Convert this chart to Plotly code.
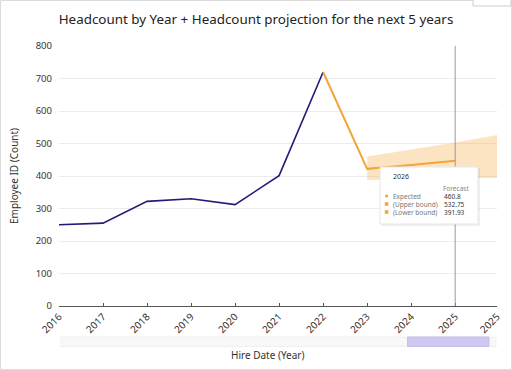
import plotly.graph_objects as go

# ---- data ----
years_hist = [2016, 2017, 2018, 2019, 2020, 2021, 2022]
headcount = [250, 255, 322, 330, 312, 401, 720]

years_fc = [2022, 2023, 2024, 2025]
forecast = [720, 422, 434, 447]

band_x = [2023, 2024, 2025, 2025.95]
band_upper = [460, 481, 503, 526]
band_lower = [388, 391, 393, 394]

tick_vals = [2016, 2017, 2018, 2019, 2020, 2021, 2022, 2023, 2024, 2025, 2025.95]
tick_text = ["2016", "2017", "2018", "2019", "2020", "2021", "2022", "2023", "2024", "2025", "2025"]

tooltip_title = "2026"
tooltip_labels = ["Expected", "(Upper bound)", "(Lower bound)"]
tooltip_values = ["460.8", "532.75", "391.93"]
spike_x = 2025

BLUE = "#201c78"
ORANGE = "#f2a53a"
FONT = "Noto Sans"

W, H = 512, 370
L, R, T, B = 59, 15, 46, 64
PW, PH = W - L - R, H - T - B


def px(x):
    return (x - L) / PW


def py(y):
    return (H - B - y) / PH


fig = go.Figure()

fig.add_trace(go.Scatter(x=band_x, y=band_upper, mode="lines", line=dict(width=0),
                         hoverinfo="skip", showlegend=False))
fig.add_trace(go.Scatter(x=band_x, y=band_lower, mode="lines", line=dict(width=0),
                         fill="tonexty", fillcolor="rgba(246,176,80,0.34)",
                         hoverinfo="skip", showlegend=False))
fig.add_trace(go.Scatter(x=years_hist, y=headcount, mode="lines",
                         line=dict(color=BLUE, width=1.6), showlegend=False))
fig.add_trace(go.Scatter(x=years_fc, y=forecast, mode="lines",
                         line=dict(color=ORANGE, width=2), showlegend=False))

shapes = []
# outer border
shapes.append(dict(type="rect", xref="paper", yref="paper",
                   x0=px(0.5), x1=px(W - 0.5), y0=py(H - 0.5), y1=py(0.5),
                   line=dict(color="#dcdcdc", width=1), layer="below"))
# spike line
shapes.append(dict(type="line", xref="x", yref="paper", x0=spike_x, x1=spike_x,
                   y0=0, y1=1, line=dict(color="#9a9a9a", width=1)))
# scrollbar track & thumb
shapes.append(dict(type="rect", xref="paper", yref="paper",
                   x0=px(61), x1=px(496), y0=py(346.5), y1=py(337),
                   fillcolor="#f8f8f8", line=dict(color="#f0f0f0", width=1)))
shapes.append(dict(type="rect", xref="paper", yref="paper",
                   x0=px(407.5), x1=px(489), y0=py(346.5), y1=py(337),
                   fillcolor="#cdc9f0", line=dict(color="#c4bfee", width=1)))
# toolbar box top right
shapes.append(dict(type="rect", xref="paper", yref="paper",
                   x0=px(473), x1=px(511), y0=py(6), y1=py(-2),
                   fillcolor="#ffffff", line=dict(color="#cccccc", width=1)))
# tooltip shadow + box
shapes.append(dict(type="rect", xref="paper", yref="paper",
                   x0=px(381), x1=px(480), y0=py(226), y1=py(168),
                   fillcolor="rgba(0,0,0,0.06)", line=dict(width=0)))
shapes.append(dict(type="rect", xref="paper", yref="paper",
                   x0=px(380), x1=px(478), y0=py(224), y1=py(167),
                   fillcolor="#ffffff", line=dict(color="#e6e6e6", width=1)))
# tooltip markers
row_y = [196, 204, 212]
shapes.append(dict(type="circle", xref="paper", yref="paper",
                   x0=px(385), x1=px(388.2), y0=py(197.6), y1=py(194.4),
                   fillcolor=ORANGE, line=dict(width=0)))
for ry in row_y[1:]:
    shapes.append(dict(type="rect", xref="paper", yref="paper",
                       x0=px(384.8), x1=px(388.4), y0=py(ry + 1.8), y1=py(ry - 1.8),
                       fillcolor=ORANGE, line=dict(width=0)))

ann = []
ann.append(dict(text=tooltip_title, xref="paper", yref="paper", x=px(391), y=py(176),
                xanchor="left", yanchor="middle", showarrow=False,
                font=dict(family=FONT, size=7, color="#333")))
ann.append(dict(text="Forecast", xref="paper", yref="paper", x=px(471), y=py(188),
                xanchor="right", yanchor="middle", showarrow=False,
                font=dict(family=FONT, size=6.5, color="#888")))
for lab, val, ry in zip(tooltip_labels, tooltip_values, row_y):
    ann.append(dict(text=lab, xref="paper", yref="paper", x=px(390.5), y=py(ry),
                    xanchor="left", yanchor="middle", showarrow=False,
                    font=dict(family=FONT, size=6.5, color="#777")))
    ann.append(dict(text=val, xref="paper", yref="paper", x=px(442), y=py(ry),
                    xanchor="left", yanchor="middle", showarrow=False,
                    font=dict(family=FONT, size=6.5, color="#333")))
# axis titles
ann.append(dict(text="Employee ID (Count)", xref="paper", yref="paper", x=px(14), y=py(176),
                textangle=-90, xanchor="center", yanchor="middle", showarrow=False,
                font=dict(family=FONT, size=10, color="#333")))
ann.append(dict(text="Hire Date (Year)", xref="paper", yref="paper", x=px(267), y=py(355),
                xanchor="center", yanchor="middle", showarrow=False,
                font=dict(family=FONT, size=10, color="#333")))

fig.update_layout(
    width=W, height=H,
    margin=dict(l=L, r=R, t=T, b=B, autoexpand=False),
    paper_bgcolor="white", plot_bgcolor="white",
    font=dict(family=FONT, color="#333"),
    title=dict(text="Headcount by Year + Headcount projection for the next 5 years",
               x=0.5, xanchor="center", xref="container",
               y=1 - 19 / H, yanchor="middle", yref="container",
               font=dict(family=FONT, size=13.4, color="#222")),
    shapes=shapes, annotations=ann,
    showlegend=False,
)
fig.update_xaxes(range=[2016, 2025.95], tickvals=tick_vals, ticktext=tick_text,
                 tickangle=-45, showgrid=False, zeroline=False, automargin=False,
                 showline=True, linecolor="#555", linewidth=1,
                 ticks="inside", ticklen=3, tickcolor="#555",
                 tickfont=dict(family=FONT, size=10, color="#333"))
fig.update_yaxes(range=[0, 800], tickvals=[0, 100, 200, 300, 400, 500, 600, 700, 800],
                 showgrid=True, gridcolor="#ececec", gridwidth=1, zeroline=False,
                 showline=False, ticks="", ticklabelstandoff=6, automargin=False,
                 tickfont=dict(family=FONT, size=9.5, color="#333"))

fig.write_html("out.html", config={"displayModeBar": False},
               post_script="document.body.style.margin='0';document.body.style.overflow='hidden';")
